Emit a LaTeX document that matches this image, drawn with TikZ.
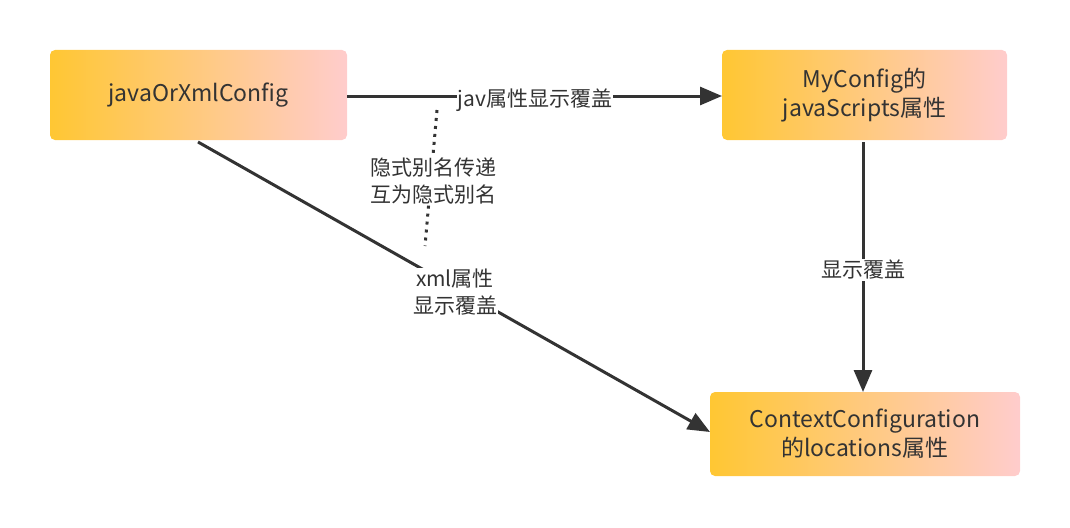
\documentclass[tikz,border=0pt]{standalone}
\usepackage{fontspec}
\setmainfont{Noto Sans CJK SC}
\usetikzlibrary{arrows.meta}
\definecolor{ln}{HTML}{333333}
\begin{document}
\begin{tikzpicture}[x=1pt,y=-1pt,
box/.style={rounded corners=5pt,left color=orange!55!yellow!80!white,right color=red!20!white,draw=none,align=center,font=\fontsize{23}{29}\selectfont,text=ln,minimum height=90pt,inner sep=0pt},
lbl/.style={fill=white,align=center,font=\fontsize{21}{27}\selectfont,text=ln,inner sep=1pt},
edge/.style={draw=ln,line width=3pt,-{Triangle[length=22pt,width=18pt]}}]
\useasboundingbox (0,0) rectangle (1070,527);
\node[box,minimum width=297pt] (A) at (198.5,95) {javaOrXmlConfig};
\node[box,minimum width=285pt] (B) at (864.5,95) {MyConfig的\\javaScripts属性};
\node[box,minimum width=310pt,minimum height=84pt] (C) at (865,434) {ContextConfiguration\\的locations属性};
\coordinate (a1) at (347,96);
\coordinate (b1) at (722,96);
\coordinate (a2) at (198,142);
\coordinate (c2) at (710,432);
\coordinate (b3) at (863,142);
\coordinate (c3) at (863,392);
\draw[edge] (a1) -- (b1);
\draw[edge] (a2) -- (c2);
\draw[edge] (b3) -- (c3);
\node[lbl] (L1) at (535,100) {jav属性显示覆盖};
\node[lbl] (L2) at (455,292) {xml属性\\显示覆盖};
\node[lbl] (L3) at (863,270) {显示覆盖};
\coordinate (d1) at (437,110);
\coordinate (d2) at (425,246);
\draw[ln,line width=3pt,dash pattern=on 3pt off 5pt] (d1) -- (d2);
\node[lbl] (L4) at (433,181) {隐式别名传递\\互为隐式别名};
\end{tikzpicture}
\end{document}
